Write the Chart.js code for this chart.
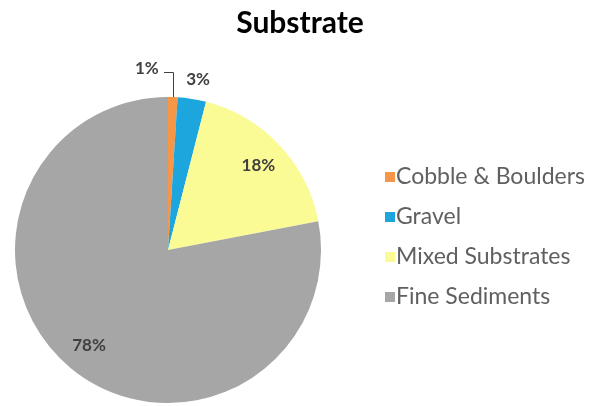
<!DOCTYPE html>
<html lang="en">
<head>
    <meta charset="UTF-8">
    <title>Substrate</title>
    <script src="https://cdn.jsdelivr.net/npm/chart.js"></script>
    <style>
        html, body { margin: 0; padding: 0; background: #fff; }
        #wrap { position: relative; width: 592px; height: 406px; }
    </style>
</head>
<body>
    <div id="wrap"><canvas id="myChart"></canvas></div>
    <script>
        // data
        const chartTitle = "Substrate";
        const categories = ["Cobble & Boulders", "Gravel", "Mixed Substrates", "Fine Sediments"];
        const shares = [1, 3, 18, 78];
        const colors = ["#F79646", "#1DA6DE", "#FBFB96", "#A6A6A6"];
        // where each percent label goes: leader line, just outside, or inside the slice
        const labelModes = ["leader", "outside", "inside", "inside"];

        const pctLabels = {
            id: 'pctLabels',
            afterDatasetsDraw(chart) {
                const ctx = chart.ctx;
                const arcs = chart.getDatasetMeta(0).data;
                ctx.save();
                ctx.font = 'bold 17px Lato';
                ctx.fillStyle = '#404040';
                ctx.strokeStyle = '#404040';
                ctx.lineWidth = 1;
                arcs.forEach((arc, i) => {
                    const mid = (arc.startAngle + arc.endAngle) / 2;
                    const R = arc.outerRadius;
                    const txt = shares[i] + '%';
                    const mode = labelModes[i];
                    if (mode === 'inside') {
                        ctx.textAlign = 'center';
                        ctx.textBaseline = 'middle';
                        ctx.fillText(txt, arc.x + Math.cos(mid) * R * 0.81, arc.y + Math.sin(mid) * R * 0.81);
                    } else if (mode === 'outside') {
                        ctx.textAlign = 'center';
                        ctx.textBaseline = 'middle';
                        ctx.fillText(txt, arc.x + Math.cos(mid) * R * 1.13 + 3, arc.y + Math.sin(mid) * R * 1.13);
                    } else {
                        const x0 = arc.x + Math.cos(mid) * R;
                        const y0 = arc.y + Math.sin(mid) * R;
                        ctx.beginPath();
                        ctx.moveTo(Math.round(x0) + 0.5, y0);
                        ctx.lineTo(Math.round(x0) + 0.5, Math.round(y0 - 25) + 0.5);
                        ctx.lineTo(Math.round(x0 - 9), Math.round(y0 - 25) + 0.5);
                        ctx.stroke();
                        ctx.textAlign = 'right';
                        ctx.textBaseline = 'middle';
                        ctx.fillText(txt, x0 - 14, y0 - 29);
                    }
                });
                ctx.restore();
            }
        };

        // title centred on the whole picture, legend on the right
        const titleAndLegend = {
            id: 'titleAndLegend',
            afterDraw(chart) {
                const ctx = chart.ctx;
                ctx.save();
                ctx.font = 'bold 30px Lato';
                ctx.fillStyle = '#000';
                ctx.textAlign = 'center';
                ctx.textBaseline = 'middle';
                ctx.fillText(chartTitle, 300, 23);

                ctx.font = '23px Lato';
                ctx.textAlign = 'left';
                chart.data.labels.forEach((lab, i) => {
                    const y = 177 + i * 40;
                    ctx.fillStyle = colors[i];
                    ctx.fillRect(385, y - 5, 10, 10);
                    ctx.fillStyle = '#606060';
                    ctx.fillText(lab, 396, y);
                });
                ctx.restore();
            }
        };

        new Chart(document.getElementById('myChart'), {
            type: 'pie',
            data: {
                labels: categories,
                datasets: [{
                    data: shares,
                    backgroundColor: colors,
                    borderWidth: 0
                }]
            },
            options: {
                responsive: true,
                maintainAspectRatio: false,
                animation: false,
                layout: { padding: { left: 15, right: 271, top: 97, bottom: 3 } },
                plugins: {
                    title: { display: false },
                    legend: { display: false },
                    tooltip: { enabled: false }
                }
            },
            plugins: [pctLabels, titleAndLegend]
        });
    </script>
</body>
</html>
